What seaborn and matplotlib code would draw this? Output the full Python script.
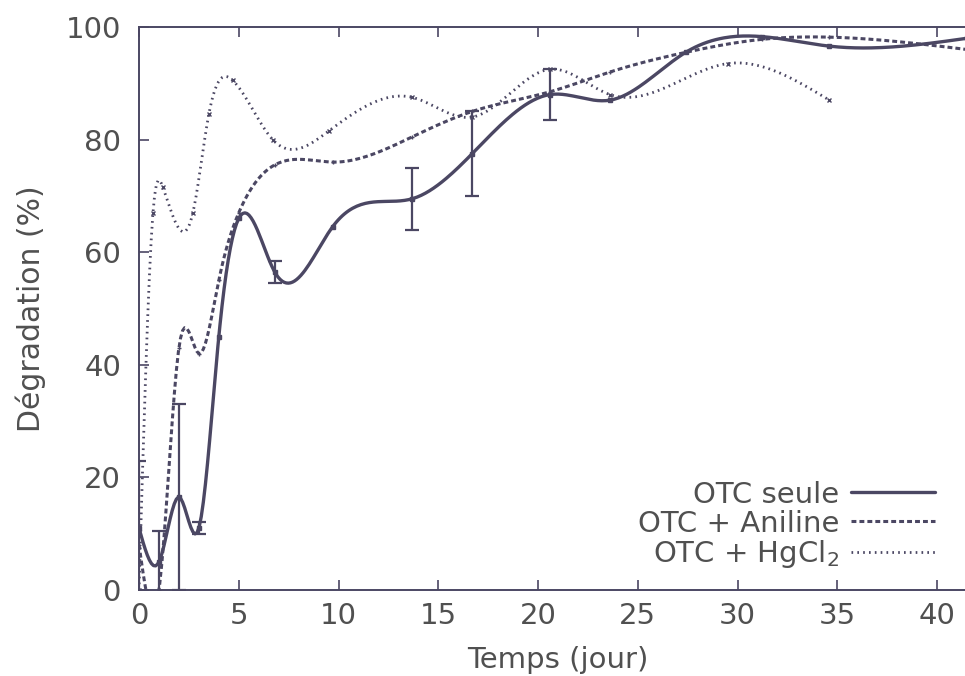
import numpy as np
import pandas as pd
import seaborn as sns
import matplotlib.pyplot as plt

# days of sampling
days = [0, 1, 2, 3, 4, 5, 6.8, 9.7, 13.7, 16.7, 20.6, 23.6, 27.4, 31.2, 34.6, 41.5]
otc_seule = [11, 5, 16.5, 11, 45, 66, 56.5, 64.5, 69.5, 77.5, 88, 87, 95.5, 98.3, 96.6, 98]
otc_aniline = [8, 0, 43, 42, 55, 67, 75.5, 76, 80.5, 85, 88.5, 92, 95.5, 97.8, 98.2, 96]

days_hg = [0, 0.7, 1.2, 2.7, 3.5, 4.7, 6.7, 9.5, 13.7, 16.7, 20.6, 23.6, 29.5, 34.6]
otc_hgcl2 = [0, 67, 71.5, 67, 84.5, 90.5, 80, 81.5, 87.5, 84, 92.5, 88, 93.5, 87]

# error bars on "OTC seule"
err_days = [0, 1, 2, 3, 6.8, 13.7, 16.7, 20.6]
err_vals = [12, 5.5, 16.5, 1, 2, 5.5, 7.5, 4.5]


def cspline(x, y, n=400):
    # natural cubic spline, like gnuplot "smooth csplines"
    x = np.asarray(x, float)
    y = np.asarray(y, float)
    k = len(x)
    h = np.diff(x)
    A = np.zeros((k, k))
    b = np.zeros(k)
    A[0, 0] = A[-1, -1] = 1
    for i in range(1, k - 1):
        A[i, i - 1] = h[i - 1]
        A[i, i] = 2 * (h[i - 1] + h[i])
        A[i, i + 1] = h[i]
        b[i] = 3 * ((y[i + 1] - y[i]) / h[i] - (y[i] - y[i - 1]) / h[i - 1])
    c = np.linalg.solve(A, b)
    xs = np.linspace(x[0], x[-1], n)
    idx = np.clip(np.searchsorted(x, xs) - 1, 0, k - 2)
    dx = xs - x[idx]
    bb = (y[idx + 1] - y[idx]) / h[idx] - h[idx] * (2 * c[idx] + c[idx + 1]) / 3
    d = (c[idx + 1] - c[idx]) / (3 * h[idx])
    ys = y[idx] + bb * dx + c[idx] * dx ** 2 + d * dx ** 3
    return xs, ys


labels = ["OTC seule", "OTC + Aniline", "OTC + HgCl$_2$"]
series = [(days, otc_seule), (days, otc_aniline), (days_hg, otc_hgcl2)]

curves = []
points = []
for lab, (x, y) in zip(labels, series):
    xs, ys = cspline(x, y)
    curves.append(pd.DataFrame({"t": xs, "deg": ys, "serie": lab}))
    points.append(pd.DataFrame({"t": x, "deg": y, "serie": lab}))
df_curve = pd.concat(curves)
df_pts = pd.concat(points)

sns.set_style("ticks")
plt.rcParams["font.family"] = ["DejaVu Sans"]

ink = "#4b4763"
txt = "#505050"

fig = plt.figure(figsize=(9.65, 6.76), dpi=100)
ax = fig.add_axes([139 / 965, 86 / 676, 838 / 965, 563 / 676])

dash_map = {labels[0]: "", labels[1]: (1.6, 1.0), labels[2]: (0.6, 1.5)}
width_map = {labels[0]: 2.4, labels[1]: 2.2, labels[2]: 2.0}
for lab in labels:
    sns.lineplot(data=df_curve[df_curve.serie == lab], x="t", y="deg", color=ink,
                 lw=width_map[lab], dashes=False, ax=ax, label=lab, sort=False,
                 estimator=None)
    if dash_map[lab]:
        ax.lines[-1].set_dashes(dash_map[lab])

mk = {labels[0]: "s", labels[1]: "+", labels[2]: "x"}
for lab in labels:
    sub = df_pts[df_pts.serie == lab]
    ax.plot(sub.t, sub.deg, ls="none", marker=mk[lab], ms=3.5, mew=1.0, color=ink)

seule_at = dict(zip(days, otc_seule))
ax.errorbar(err_days, [seule_at[d] for d in err_days], yerr=err_vals, fmt="none",
            ecolor=ink, elinewidth=1.6, capsize=5, capthick=1.6)

ax.set_xlim(0, 42)
ax.set_ylim(0, 100)
ax.set_xticks([0, 5, 10, 15, 20, 25, 30, 35, 40])
ax.set_yticks([0, 20, 40, 60, 80, 100])
ax.tick_params(direction="in", top=True, right=True, length=7, width=1.2,
               color=ink, labelsize=21, labelcolor=txt)
ax.tick_params(axis="x", pad=9)
ax.tick_params(axis="y", pad=13)
for s in ax.spines.values():
    s.set_color(ink)
    s.set_linewidth(1.4)
ax.set_xlabel("Temps (jour)", fontsize=21, color=txt, labelpad=11)
ax.set_ylabel("Dégradation (%)", fontsize=21.5, color=txt, labelpad=14)

leg = ax.legend(loc="lower right", bbox_to_anchor=(950 / 965, 91 / 676),
                bbox_transform=fig.transFigure, frameon=False, markerfirst=False,
                fontsize=21, handlelength=2.9, labelspacing=0.03, handletextpad=0.4,
                borderpad=0)
for t in leg.get_texts():
    t.set_color(txt)

fig.savefig("out.png", dpi=100)
